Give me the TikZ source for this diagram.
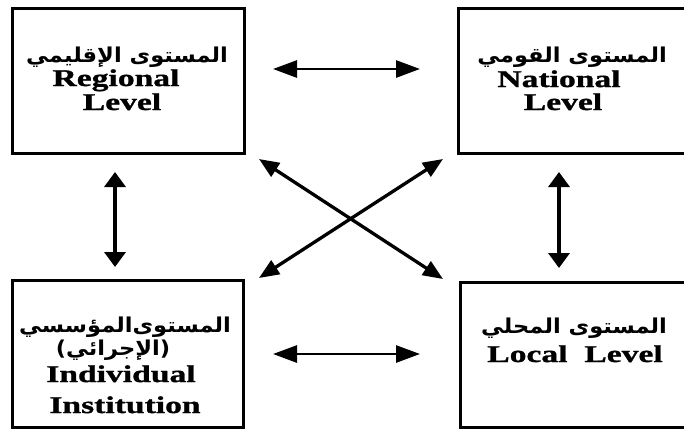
\documentclass[tikz,border=0pt]{standalone}
\usepackage{fontspec}
\newfontfamily\engfont{Liberation Serif}[FakeStretch=1.4,BoldFeatures={FakeBold=1.2}]
\newfontfamily\arabicfont[Script=Arabic,FakeStretch=1.1]{DejaVu Sans}
\TeXXeTstate=1
\usetikzlibrary{arrows.meta}
\begin{document}
\begin{tikzpicture}[x=1pt,y=-1pt,
  box/.style={draw=black,line width=3pt,minimum width=#1,inner sep=0pt},
  en/.style={anchor=base,inner sep=0pt,font=\engfont\bfseries\fontsize{24}{24}\selectfont},
  ar/.style={anchor=base,inner sep=0pt,font=\arabicfont\bfseries\fontsize{20.5}{20.5}\selectfont},
  harr/.style={line width=2.8pt,{Triangle[length=24pt,width=17pt]}-{Triangle[length=24pt,width=17pt]}},
  varr/.style={line width=3.5pt,{Triangle[length=15pt,width=21pt]}-{Triangle[length=15pt,width=21pt]}},
  darr/.style={line width=3.3pt,{Triangle[length=20pt,width=16pt]}-{Triangle[length=20pt,width=16pt]}}]
\useasboundingbox[fill=white] (0,0) rectangle (684,432);
% boxes
\node[box=232pt,minimum height=145pt] (tl) at (128,80.5) {};
\node[box=232pt,minimum height=145pt] (tr) at (574,80.5) {};
\node[box=231pt,minimum height=147pt] (bl) at (127.5,353.5) {};
\node[box=232pt,minimum height=145pt] (br) at (576,354.5) {};
% texts
\node[ar] (tlar) at (127,62) {\beginR المستوى الإقليمي\endR};
\node[en] (tlen1) at (116,86) {Regional};
\node[en] (tlen2) at (122,110) {Level};
\node[ar] (trar) at (572,62) {\beginR المستوى القومي\endR};
\node[en] (tren1) at (559,87) {National};
\node[en] (tren2) at (563,110) {Level};
\node[ar] (blar1) at (125,332) {\beginR المستوى‌المؤسسي\endR};
\node[ar] (blar2) at (113,355) {\beginR (الإجرائي)\endR};
\node[en] (blen1) at (121,382) {Individual};
\node[en] (blen2) at (125,413) {Institution};
\node[ar] (brar) at (574,333) {\beginR المستوى المحلي\endR};
\node[en] (bren) at (575,362) {Local\ \ Level};
% arrow end points
\coordinate (h1a) at (273,69);  \coordinate (h1b) at (420,69);
\coordinate (h2a) at (273,354); \coordinate (h2b) at (420,354);
\coordinate (v1a) at (115,172); \coordinate (v1b) at (115,267);
\coordinate (v2a) at (559,172); \coordinate (v2b) at (559,268);
\coordinate (d1a) at (259,159); \coordinate (d1b) at (443,279);
\coordinate (d2a) at (443,159); \coordinate (d2b) at (259,278);
\draw[harr] (h1a) -- (h1b);
\draw[harr] (h2a) -- (h2b);
\draw[varr] (v1a) -- (v1b);
\draw[varr] (v2a) -- (v2b);
\draw[darr] (d1a) -- (d1b);
\draw[darr] (d2a) -- (d2b);
\end{tikzpicture}
\end{document}
